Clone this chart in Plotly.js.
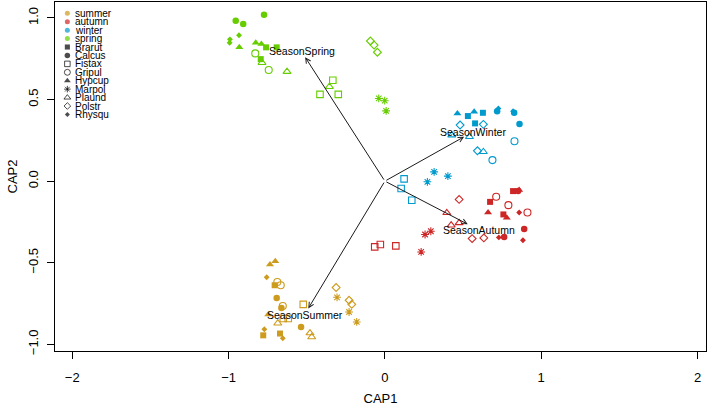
<!DOCTYPE html>
<html><head><meta charset="utf-8">
<script src="https://cdn.plot.ly/plotly-3.0.1.min.js"></script>
<style>html,body{margin:0;padding:0;background:#fff}#chart{width:709px;height:408px}</style>
</head><body><div id="chart"></div>
<script>
// ---- categories ----
const seasons = ['summer', 'autumn', 'winter', 'spring'];
const seasonColors = ['#CD9B1D', '#CD2626', '#009ACD', '#66CD00'];
const species = ['Brarut', 'Calcus', 'Fistax', 'Gripul', 'Hypcup', 'Marpol', 'Plaund', 'Polstr', 'Rhysqu'];
const speciesSymbols = ['square', 'circle', 'square-open', 'circle-open', 'triangle-up', 'asterisk-open', 'triangle-up-open', 'diamond-open', 'diamond'];
const speciesSizes = [6, 6.5, 6.5, 7, 7, 6.5, 7, 6, 4.5];

// ---- site scores (CAP1, CAP2) per season ----
const summerSpecies = ['Brarut','Brarut','Brarut','Calcus','Calcus','Calcus','Fistax','Fistax','Fistax','Gripul','Gripul','Gripul','Hypcup','Hypcup','Hypcup','Marpol','Marpol','Marpol','Plaund','Plaund','Plaund','Polstr','Polstr','Polstr','Rhysqu','Rhysqu','Rhysqu'];
const summerCAP1 = [-0.705,-0.778,-0.671, -0.692,-0.662,-0.536, -0.650,-0.618,-0.522, -0.688,-0.666,-0.653, -0.735,-0.701,-0.746, -0.306,-0.229,-0.180, -0.685,-0.479,-0.468, -0.312,-0.229,-0.212, -0.756,-0.771,-0.653];
const summerCAP2 = [-0.638,-0.945,-0.934, -0.716,-0.777,-0.894, -0.842,-0.842,-0.755, -0.618,-0.638,-0.765, -0.511,-0.491,-0.818, -0.712,-0.802,-0.863, -0.871,-0.931,-0.955, -0.652,-0.730,-0.755, -0.589,-0.908,-0.963];

const autumnSpecies = ['Brarut','Brarut','Brarut','Calcus','Calcus','Calcus','Fistax','Fistax','Fistax','Gripul','Gripul','Gripul','Hypcup','Hypcup','Hypcup','Marpol','Marpol','Marpol','Plaund','Plaund','Plaund','Polstr','Polstr','Polstr','Rhysqu','Rhysqu','Rhysqu'];
const autumnCAP1 = [0.673,0.758,0.820, 0.852,0.891,0.763, -0.065,-0.029,0.070, 0.712,0.790,0.912, 0.660,0.780,0.859, 0.257,0.294,0.232, 0.396,0.424,0.475, 0.475,0.558,0.633, 0.859,0.883,0.729];
const autumnCAP2 = [-0.127,-0.204,-0.061, -0.061,-0.294,-0.342, -0.403,-0.388,-0.397, -0.096,-0.147,-0.192, -0.192,-0.225,-0.055, -0.327,-0.307,-0.434, -0.194,-0.270,-0.256, -0.112,-0.352,-0.348, -0.192,-0.362,-0.345];

const winterSpecies = ['Brarut','Brarut','Brarut','Calcus','Calcus','Calcus','Fistax','Fistax','Fistax','Gripul','Gripul','Hypcup','Hypcup','Marpol','Marpol','Marpol','Plaund','Plaund','Plaund','Polstr','Polstr','Polstr','Rhysqu','Rhysqu'];
const winterCAP1 = [0.531,0.627,0.577, 0.827,0.861,0.718, 0.123,0.104,0.172, 0.829,0.688, 0.464,0.571, 0.315,0.272,0.403, 0.428,0.541,0.630, 0.481,0.630,0.592, 0.726,0.820];
const winterCAP2 = [0.399,0.419,0.354, 0.419,0.350,0.429, 0.014,-0.045,-0.117, 0.245,0.129, 0.415,0.425, 0.057,-0.004,0.031, 0.282,0.272,0.180, 0.344,0.348,0.186, 0.445,0.429];

const springSpecies = ['Brarut','Brarut','Brarut','Calcus','Calcus','Calcus','Fistax','Fistax','Fistax','Gripul','Gripul','Hypcup','Hypcup','Hypcup','Marpol','Marpol','Marpol','Plaund','Plaund','Plaund','Polstr','Polstr','Polstr','Rhysqu','Rhysqu','Rhysqu'];
const springCAP1 = [-0.760,-0.692,-0.794, -0.954,-0.906,-0.773, -0.333,-0.415,-0.298, -0.829,-0.743, -0.931,-0.826,-0.790, -0.039,-0.001,0.008, -0.786,-0.626,-0.355, -0.093,-0.069,-0.048, -0.933,-0.991,-0.993];
const springCAP2 = [0.820,0.820,0.748, 0.983,0.963,1.020, 0.618,0.532,0.532, 0.783,0.681, 0.820,0.848,0.840, 0.507,0.493,0.431, 0.726,0.671,0.579, 0.859,0.834,0.790, 0.894,0.869,0.848];

// ---- constraint arrows (biplot) ----
const arrowLabels = ['SeasonSpring', 'SeasonWinter', 'SeasonAutumn', 'SeasonSummer'];
const arrowCAP1 = [-0.51, 0.507, 0.53, -0.49];
const arrowCAP2 = [0.76, 0.272, -0.264, -0.78];
const labelCAP1 = [-0.53, 0.565, 0.60, -0.51];
const labelCAP2 = [0.80, 0.30, -0.30, -0.82];

const FONT = 'Liberation Sans, Arial, Helvetica, sans-serif';
const seasonData = {
  summer: [summerSpecies, summerCAP1, summerCAP2],
  autumn: [autumnSpecies, autumnCAP1, autumnCAP2],
  winter: [winterSpecies, winterCAP1, winterCAP2],
  spring: [springSpecies, springCAP1, springCAP2]
};

function markerFor(spIdx, color, scale) {
  const sym = speciesSymbols[spIdx];
  const open = sym.indexOf('-open') >= 0;
  return {
    symbol: sym, size: speciesSizes[spIdx] * (scale || 1), color: color,
    line: {width: open ? 1.1 : 0, color: color}
  };
}

const traces = [];
seasons.forEach((s, si) => {
  const [sp, x, y] = seasonData[s];
  species.forEach((name, k) => {
    const xs = [], ys = [];
    sp.forEach((v, i) => { if (v === name) { xs.push(x[i]); ys.push(y[i]); } });
    if (!xs.length) return;
    traces.push({
      type: 'scatter', mode: 'markers', x: xs, y: ys, showlegend: false,
      hoverinfo: 'skip', marker: markerFor(k, seasonColors[si]), cliponaxis: false
    });
  });
});

// ---- hand-made compact legend (R style) on an overlay axis ----
const legendItems = seasons.concat(species);
const plotH = 348.7;
const legY = legendItems.map((_, i) => 1 - (11.3 + 8.42 * i) / plotH);
const legX = legendItems.map(() => 0.019);
const legColors = legendItems.map((_, i) => i < seasons.length ? seasonColors[i] : '#000');
const legSymbols = legendItems.map((_, i) => i < seasons.length ? 'circle' : speciesSymbols[i - seasons.length]);
const legSizes = legendItems.map((_, i) => i < seasons.length ? 5 : speciesSizes[i - seasons.length] * 0.85);
const legLineW = legSymbols.map(s => s.indexOf('-open') >= 0 ? 1 : 0);
traces.push({
  type: 'scatter', mode: 'markers', x: legX, y: legY, xaxis: 'x2', yaxis: 'y2',
  showlegend: false, hoverinfo: 'skip',
  marker: {symbol: legSymbols, size: legSizes, color: legColors, line: {width: legLineW, color: legColors}}
});

const annotations = [];
legendItems.forEach((t, i) => {
  annotations.push({xref: 'paper', yref: 'paper', x: 0.028, y: legY[i], text: t, showarrow: false,
    xanchor: 'left', yanchor: 'middle', font: {family: FONT, size: 10, color: '#000'}});
});
arrowLabels.forEach((t, i) => {
  annotations.push({xref: 'x', yref: 'y', axref: 'x', ayref: 'y', x: arrowCAP1[i], y: arrowCAP2[i],
    ax: 0, ay: 0, text: '', showarrow: true, arrowhead: 5, arrowsize: 1, arrowwidth: 1, arrowcolor: '#1a1a1a', standoff: 0});
  annotations.push({xref: 'x', yref: 'y', x: labelCAP1[i], y: labelCAP2[i], text: t, showarrow: false,
    xanchor: 'center', yanchor: 'middle', font: {family: FONT, size: 10.5, color: '#000'}});
});

const axisCommon = {
  showgrid: false, zeroline: false, showline: true, mirror: true, linecolor: '#000', linewidth: 1,
  ticks: 'outside', ticklen: 7, tickwidth: 1, tickcolor: '#000',
  tickfont: {family: FONT, size: 13, color: '#000'}, automargin: false, fixedrange: true
};

const layout = {
  width: 709, height: 408,
  margin: {l: 55, r: 3, t: 2, b: 57},
  paper_bgcolor: '#fff', plot_bgcolor: '#fff',
  font: {family: FONT, color: '#000'},
  xaxis: Object.assign({}, axisCommon, {
    range: [-2.11, 2.054], tickvals: [-2, -1, 0, 1, 2], ticklabelstandoff: 7,
    title: {text: 'CAP1', font: {family: FONT, size: 13, color: '#000'}, standoff: 10}
  }),
  yaxis: Object.assign({}, axisCommon, {
    range: [-1.041, 1.098], tickvals: [-1, -0.5, 0, 0.5, 1], tickformat: '.1f', tickangle: -90,
    ticklabelstandoff: 4,
    title: {text: 'CAP2', font: {family: FONT, size: 13, color: '#000'}, standoff: 5}
  }),
  xaxis2: {overlaying: 'x', range: [0, 1], visible: false, fixedrange: true},
  yaxis2: {overlaying: 'y', range: [0, 1], visible: false, fixedrange: true},
  annotations: annotations,
  showlegend: false
};

Plotly.newPlot('chart', traces, layout, {staticPlot: true, displayModeBar: false});
</script>
</body></html>
